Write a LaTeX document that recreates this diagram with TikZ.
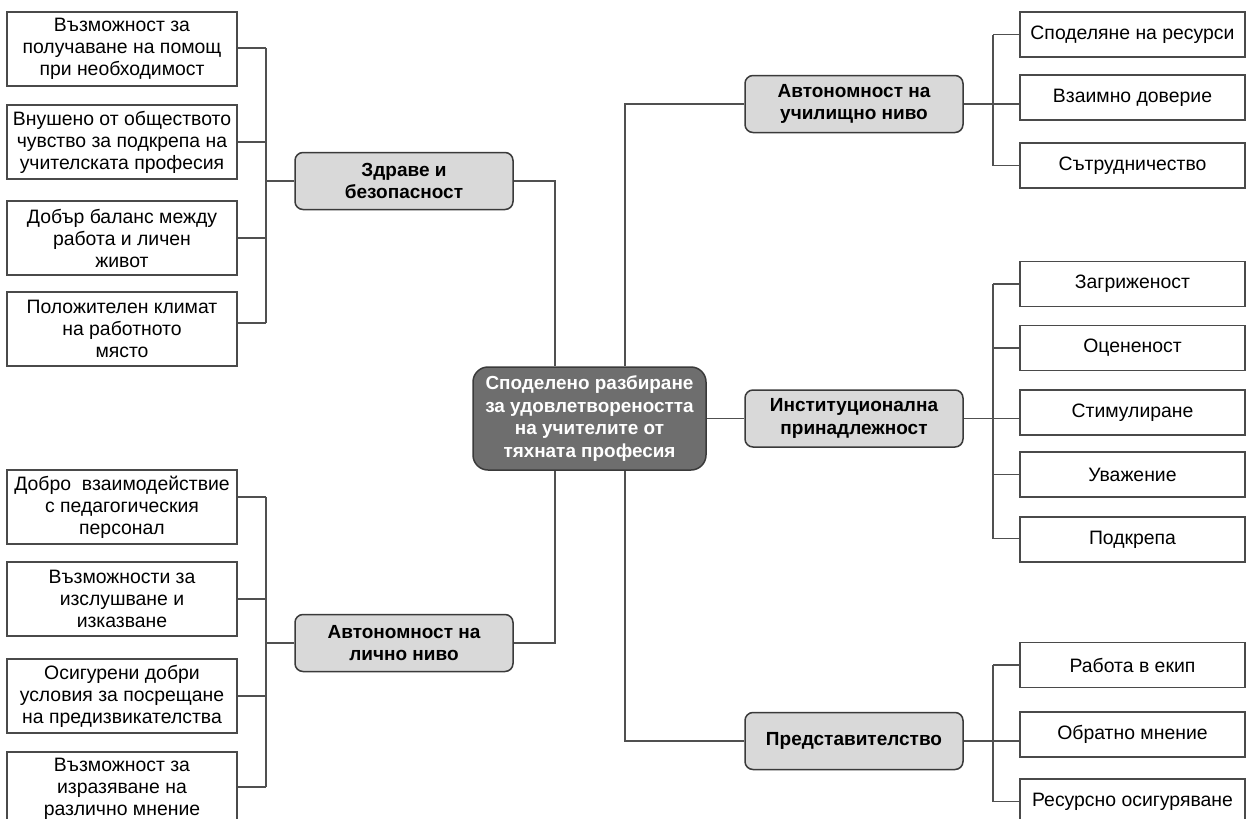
\documentclass[tikz,border=0pt]{standalone}
\usepackage{fontspec}
\setmainfont{Liberation Sans}
\definecolor{linec}{HTML}{505050}
\definecolor{boxline}{HTML}{4A4A4A}
\definecolor{midfill}{HTML}{D9D9D9}
\definecolor{midline}{HTML}{3A3A3A}
\definecolor{cfill}{HTML}{6E6E6E}
\begin{document}
\begin{tikzpicture}[x=1pt,y=-1pt,
  leaf/.style={draw=boxline, line width=1.3pt, fill=white, rectangle, align=center,
    inner sep=0pt, minimum width=230pt, minimum height=74pt,
    font=\fontsize{19.4pt}{22pt}\selectfont},
  leafr/.style={draw=boxline, line width=1.3pt, fill=white, rectangle, align=center,
    inner sep=0pt, minimum width=225pt, minimum height=45pt,
    font=\fontsize{19.4pt}{22pt}\selectfont},
  mid/.style={draw=midline, line width=1.5pt, fill=midfill, rounded corners=8pt,
    align=center, inner sep=0pt, minimum width=218pt, minimum height=57pt,
    font=\fontsize{19pt}{22.5pt}\selectfont\bfseries},
  hub/.style={draw=midline, line width=1.5pt, fill=cfill, rounded corners=15pt,
    align=center, inner sep=0pt, minimum width=233pt, minimum height=103pt,
    text=white, font=\fontsize{18.9pt}{22.5pt}\selectfont\bfseries},
  conn/.style={draw=linec, line width=1.3pt}
]
\useasboundingbox (0,0) rectangle (1248,819);

% central
\node[hub] (C) at (589.5,418.5) {Споделено разбиране\\за удовлетвореността\\на учителите от\\тяхната професия};

% middle nodes
\node[mid] (H1) at (404,181) {Здраве и\\безопасност};
\node[mid] (H2) at (404,643) {Автономност на\\лично ниво};
\node[mid] (H3) at (854,104) {Автономност на\\училищно ниво};
\node[mid] (H4) at (854,418.5) {Институционална\\принадлежност};
\node[mid] (H5) at (854,741) {Представителство};

% left upper leaves
\node[leaf] (L1) at (122,49) {Възможност за\\получаване на помощ\\при необходимост};
\node[leaf] (L2) at (122,142) {Внушено от обществото\\чувство за подкрепа на\\учителската професия};
\node[leaf] (L3) at (122,238) {Добър баланс между\\работа и личен\\живот};
\node[leaf] (L4) at (122,329) {Положителен климат\\на работното\\място};

% left lower leaves
\node[leaf] (L5) at (122,507) {Добро\ \ взаимодействие\\с педагогическия\\персонал};
\node[leaf] (L6) at (122,599) {Възможности за\\изслушване и\\изказване};
\node[leaf] (L7) at (122,696) {Осигурени добри\\условия за посрещане\\на предизвикателства};
\node[leaf] (L8) at (122,789) {Възможност за\\изразяване на\\различно мнение};

% right leaves
\node[leafr] (R1) at (1132.5,34.5) {Споделяне на ресурси};
\node[leafr] (R2) at (1132.5,97.5) {Взаимно доверие};
\node[leafr] (R3) at (1132.5,165.5) {Сътрудничество};
\node[leafr] (R4) at (1132.5,284) {Загриженост};
\node[leafr] (R5) at (1132.5,348) {Оцененост};
\node[leafr] (R6) at (1132.5,412.5) {Стимулиране};
\node[leafr] (R7) at (1132.5,474.5) {Уважение};
\node[leafr] (R8) at (1132.5,539.5) {Подкрепа};
\node[leafr] (R9) at (1132.5,665) {Работа в екип};
\node[leafr] (R10) at (1132.5,734.5) {Обратно мнение};
\node[leafr] (R11) at (1132.5,801.5) {Ресурсно осигуряване};

\coordinate (vl) at (266,0);
\coordinate (vr) at (993,0);

% left upper group
\draw[conn] ([yshift=1pt]L1.east) -- ([yshift=1pt]L1.east -| vl);
\draw[conn] (L2.east) -- (L2.east -| vl);
\draw[conn] (L3.east) -- (L3.east -| vl);
\draw[conn] ([yshift=6pt]L4.east) -- ([yshift=6pt]L4.east -| vl);
\draw[conn] ([yshift=1pt]L1.east -| vl) -- ([yshift=6pt]L4.east -| vl);
\draw[conn] (H1.west) -- (H1.west -| vl);

% left lower group
\draw[conn] ([yshift=10pt]L5.east) -- ([yshift=10pt]L5.east -| vl);
\draw[conn] (L6.east) -- (L6.east -| vl);
\draw[conn] (L7.east) -- (L7.east -| vl);
\draw[conn] ([yshift=2pt]L8.east) -- ([yshift=2pt]L8.east -| vl);
\draw[conn] ([yshift=10pt]L5.east -| vl) -- ([yshift=2pt]L8.east -| vl);
\draw[conn] (H2.west) -- (H2.west -| vl);

% middle to central
\draw[conn] (H1.east) -| ([xshift=-34.5pt]C.north);
\draw[conn] (H2.east) -| ([xshift=-34.5pt]C.south);
\draw[conn] (H3.west) -| ([xshift=35.5pt]C.north);
\draw[conn] (H5.west) -| ([xshift=35.5pt]C.south);
\draw[conn] (C.east) -- (H4.west);

% right group 1
\draw[conn] (H3.east) -- (H3.east -| R2.west);
\draw[conn] (R1.west) -- (R1.west -| vr);
\draw[conn] (R3.west) -- (R3.west -| vr);
\draw[conn] (R1.west -| vr) -- (R3.west -| vr);

% right group 2
\draw[conn] (H4.east) -- (H4.east -| R6.west);
\draw[conn] (R4.west) -- (R4.west -| vr);
\draw[conn] (R5.west) -- (R5.west -| vr);
\draw[conn] (R7.west) -- (R7.west -| vr);
\draw[conn] ([yshift=1pt]R8.west) -- ([yshift=1pt]R8.west -| vr);
\draw[conn] (R4.west -| vr) -- ([yshift=1pt]R8.west -| vr);

% right group 3
\draw[conn] (H5.east) -- (H5.east -| R10.west);
\draw[conn] (R9.west) -- (R9.west -| vr);
\draw[conn] (R11.west) -- (R11.west -| vr);
\draw[conn] (R9.west -| vr) -- (R11.west -| vr);
\end{tikzpicture}
\end{document}
